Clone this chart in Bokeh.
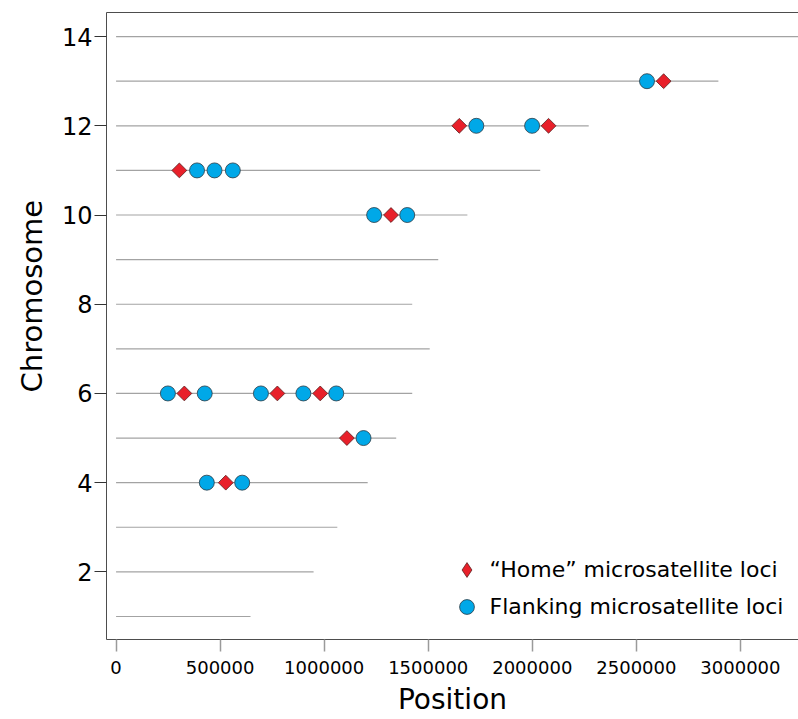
import numpy as np
from bokeh.plotting import figure
from bokeh.models import (Range1d, FixedTicker, NumeralTickFormatter, Legend,
                          LegendItem, LinearAxis, Title)
from bokeh.embed import file_html
from bokeh.resources import INLINE

# ---------------- data ----------------
chromosomes = [1, 2, 3, 4, 5, 6, 7, 8, 9, 10, 11, 12, 13, 14]
chrom_length = [646000, 949000, 1063000, 1209000, 1346000, 1423000, 1507000,
                1423000, 1548000, 1688000, 2038000, 2271000, 2894000, 3350000]

home_chrom = [13, 12, 12, 11, 10, 6, 6, 6, 5, 4]
home_pos = [2631000, 1649000, 2078000, 304000, 1321000,
            328000, 775000, 981000, 1109000, 527000]

flank_chrom = [13, 12, 12, 11, 11, 11, 10, 10, 6, 6, 6, 6, 6, 5, 4, 4]
flank_pos = [2551000, 1731000, 1999000, 389000, 473000, 561000, 1240000, 1399000,
             249000, 426000, 696000, 900000, 1058000, 1189000, 436000, 606000]

x_ticks = [0, 500000, 1000000, 1500000, 2000000, 2500000, 3000000]
y_ticks = [2, 4, 6, 8, 10, 12, 14]

X_MIN, X_MAX = -46000, 3279000
Y_MIN, Y_MAX = 0.484, 14.54

FONT = "DejaVu Sans"
RED = "#E8202A"
BLUE = "#00A8E8"
FRAME = "#4d4d4d"

p = figure(width=798, height=719, output_backend="svg", toolbar_location=None,
           x_range=Range1d(X_MIN, X_MAX), y_range=Range1d(Y_MIN, Y_MAX),
           min_border_left=106, min_border_right=0, min_border_top=12,
           min_border_bottom=80)

p.xgrid.visible = False
p.ygrid.visible = False
p.outline_line_color = None
p.background_fill_color = "white"
p.border_fill_color = "white"

# chromosome lines
p.segment(x0=[0] * len(chromosomes), y0=chromosomes, x1=chrom_length, y1=chromosomes,
          line_color="#a3a3a3", line_width=1.2)

# home loci: a diamond marker (used by the legend) covered by a rotated square
home_legend_r = p.scatter(x=home_pos, y=home_chrom, marker="diamond", size=13,
                          fill_color=RED, line_color="#5a2020", line_width=0.8)
flank_r = p.scatter(x=flank_pos, y=flank_chrom, marker="circle", size=15,
                    fill_color=BLUE, line_color="#2b3a44", line_width=0.8)
p.scatter(x=home_pos, y=home_chrom, marker="square", size=10.5,
          angle=np.pi / 4, fill_color=RED, line_color="#5a2020", line_width=0.8)

# axes
xa = p.xaxis[0]
xa.ticker = FixedTicker(ticks=x_ticks)
xa.formatter = NumeralTickFormatter(format="0")
xa.axis_line_color = FRAME
xa.major_tick_line_color = "#9a9a9a"
xa.major_tick_line_width = 1.5
xa.major_tick_in = 0
xa.major_tick_out = 12
xa.minor_tick_line_color = None
xa.major_label_standoff = 9
xa.major_label_text_font = FONT
xa.major_label_text_font_size = "18px"
xa.major_label_text_color = "black"
xa.axis_label = "Position"
xa.axis_label_text_font = FONT
xa.axis_label_text_font_size = "28px"
xa.axis_label_text_font_style = "normal"
xa.axis_label_text_color = "black"
xa.axis_label_standoff = 6

ya = p.yaxis[0]
ya.ticker = FixedTicker(ticks=y_ticks)
ya.axis_line_color = FRAME
ya.major_tick_line_color = "#333333"
ya.major_tick_line_width = 1
ya.major_tick_in = 0
ya.major_tick_out = 12
ya.minor_tick_line_color = None
ya.major_label_standoff = 2
ya.major_label_orientation = "horizontal"
ya.major_label_text_font = FONT
ya.major_label_text_font_size = "24px"
ya.major_label_text_color = "black"

# y axis title, shifted up like in the reference
p.add_layout(Title(text="Chromosome", align="left", offset=247,
                   text_font=FONT, text_font_size="29px", text_font_style="normal",
                   text_color="black", standoff=20), "left")

# top border of the box (no right border, as in the reference)
top = LinearAxis(ticker=FixedTicker(ticks=[]), axis_line_color=FRAME,
                 major_tick_line_color=None, minor_tick_line_color=None,
                 major_label_text_font_size="0px", major_label_standoff=0)
p.add_layout(top, "above")

legend = Legend(items=[LegendItem(label="\u201cHome\u201d microsatellite loci", renderers=[home_legend_r]),
                       LegendItem(label="Flanking microsatellite loci", renderers=[flank_r])],
                location=(341.5, 14.5), padding=0, spacing=-4, margin=0,
                glyph_width=37, glyph_height=37, label_standoff=5,
                label_text_font=FONT, label_text_font_size="22px",
                label_text_color="black", border_line_color=None,
                background_fill_alpha=0)
p.add_layout(legend)

open("out.html", "w").write(file_html(p, INLINE))
